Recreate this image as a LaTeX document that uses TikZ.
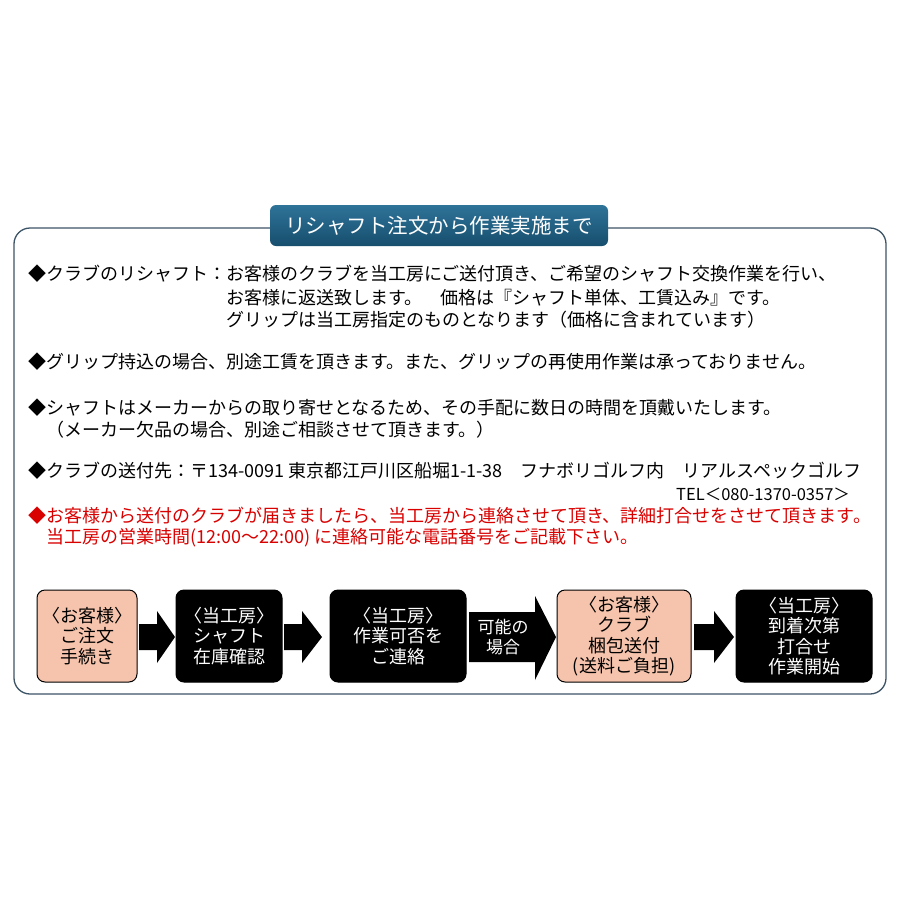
\documentclass[tikz,border=0pt]{standalone}
\usepackage{fontspec}
\setmainfont{Noto Sans CJK JP}
\begin{document}
\begin{tikzpicture}[x=1pt,y=-1pt,
  txt/.style={anchor=west,inner sep=0pt,font=\fontsize{18}{20}\selectfont},
  red/.style={txt,text=red!85!black},
  box/.style={draw=black,line width=1pt,rounded corners=8pt,align=center,font=\fontsize{18}{20.5}\selectfont,inner sep=0pt},
  cust/.style={box,fill=salmon},
  shop/.style={box,fill=black,text=white},
  arr/.style={fill=black}]
\definecolor{salmon}{HTML}{F6C4AC}
\definecolor{frame}{HTML}{3C5466}
\definecolor{tb1}{HTML}{2E7398}
\definecolor{tb2}{HTML}{174E6E}
\useasboundingbox (0,0) rectangle (900,900);
\fill[white] (0,0) rectangle (900,900);
\draw[frame,line width=1.3pt,rounded corners=16pt] (14,228) rectangle (886,694);
\shade[top color=tb1,bottom color=tb2,rounded corners=6pt] (270,205) rectangle (608,246);
\node[text=white,font=\fontsize{20.5}{22}\selectfont] (title) at (439,226) {リシャフト注文から作業実施まで};
\node[txt] (l1) at (28,274) {◆クラブのリシャフト：お客様のクラブを当工房にご送付頂き、ご希望のシャフト交換作業を行い、};
\node[txt] (l2) at (226,298) {お客様に返送致します。　価格は『シャフト単体、工賃込み』です。};
\node[txt] (l3) at (226,320) {グリップは当工房指定のものとなります（価格に含まれています）};
\node[txt] (l4) at (28,362) {◆グリップ持込の場合、別途工賃を頂きます。また、グリップの再使用作業は承っておりません。};
\node[txt] (l5) at (28,408) {◆シャフトはメーカーからの取り寄せとなるため、その手配に数日の時間を頂戴いたします。};
\node[txt] (l6) at (46,430) {（メーカー欠品の場合、別途ご相談させて頂きます。）};
\node[txt] (l7) at (28,471) {◆クラブの送付先：〒134-0091 東京都江戸川区船堀1-1-38　フナボリゴルフ内　リアルスペックゴルフ};
\node[txt,font=\fontsize{16.5}{18}\selectfont] (l8) at (676,494) {TEL＜080-1370-0357＞};
\node[red] (l9) at (28,516) {◆お客様から送付のクラブが届きましたら、当工房から連絡させて頂き、詳細打合せをさせて頂きます。};
\node[red] (l10) at (46,538) {当工房の営業時間(12:00～22:00) に連絡可能な電話番号をご記載下さい。};
\node[cust,minimum width=100pt,minimum height=92pt] (b1) at (87,636) {〈お客様〉\\ご注文\\手続き};
\node[shop,minimum width=106pt,minimum height=92pt] (b2) at (229,636) {〈当工房〉\\シャフト\\在庫確認};
\node[shop,minimum width=136pt,minimum height=92pt] (b3) at (398,636) {〈当工房〉\\作業可否を\\ご連絡};
\node[cust,minimum width=134pt,minimum height=92pt] (b4) at (624,636) {〈お客様〉\\クラブ\\梱包送付\\(送料ご負担)};
\node[shop,minimum width=136pt,minimum height=92pt] (b5) at (804,636) {〈当工房〉\\到着次第\\打合せ\\作業開始};
\fill[arr] (139,624)--(157,624)--(157,611)--(175,637)--(157,663)--(157,650)--(139,650)--cycle;
\fill[arr] (284,624)--(302,624)--(302,611)--(322,637)--(302,663)--(302,650)--(284,650)--cycle;
\fill[arr] (469,612)--(535,612)--(535,596)--(556,637)--(535,680)--(535,662)--(469,662)--cycle;
\node[text=white,align=center,font=\fontsize{17}{20}\selectfont] (m) at (503,637) {可能の\\場合};
\fill[arr] (694,624)--(714,624)--(714,611)--(734,637)--(714,663)--(714,650)--(694,650)--cycle;
\end{tikzpicture}
\end{document}
